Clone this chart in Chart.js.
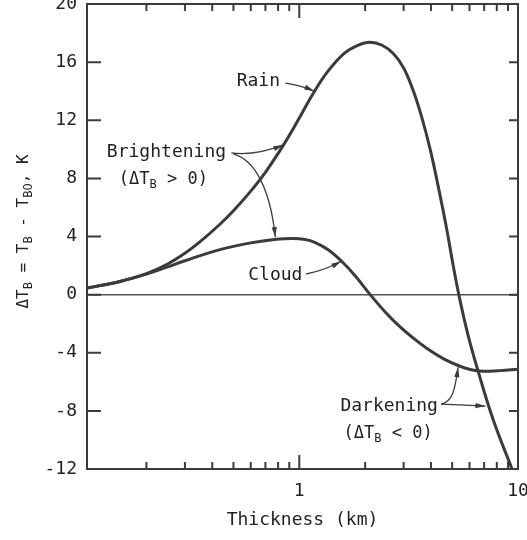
<!DOCTYPE html>
<html>
<head>
<meta charset="utf-8">
<script src="https://cdn.jsdelivr.net/npm/chart.js@4.4.1/dist/chart.umd.min.js"></script>
<style>
  html, body { margin: 0; padding: 0; background: #fff; }
</style>
</head>
<body>
<canvas id="chart" width="527" height="540"></canvas>
<script>
// ---- dados: espessura (km) x variação da temperatura de brilho (K) ----
const rainKm = [0.107, 0.15, 0.2, 0.25, 0.3, 0.35, 0.43, 0.5, 0.6, 0.7, 0.85, 1.0, 1.17, 1.35, 1.6, 1.85,
                2.11, 2.39, 2.69, 3.0, 3.33, 3.61, 3.97, 4.31, 4.73, 5.02, 5.38, 5.91, 6.59, 7.71, 9.36, 10];
const rainDT = [0.45, 0.89, 1.45, 2.11, 2.85, 3.61, 4.79, 5.77, 7.12, 8.42, 10.34, 12.15, 13.96, 15.36, 16.59, 17.16,
                17.37, 17.16, 16.59, 15.6, 13.98, 12.33, 9.98, 7.5, 4.45, 2.25, -0.1, -2.78, -5.33, -8.63, -11.95, -13.1];

const cloudKm = [0.107, 0.15, 0.2, 0.25, 0.3, 0.43, 0.6, 0.785, 0.936, 1.065, 1.17, 1.35, 1.57, 1.8,
                 2.11, 2.47, 2.89, 3.32, 3.84, 4.55, 5.43, 6.04, 6.71, 7.45, 8.28, 10];
const cloudDT = [0.45, 0.89, 1.41, 1.91, 2.33, 3.08, 3.56, 3.81, 3.87, 3.79, 3.61, 3.1, 2.26, 1.3,
                 0, -1.19, -2.22, -2.99, -3.71, -4.4, -4.93, -5.15, -5.26, -5.27, -5.23, -5.13];

// marcas do eixo log e rótulos que aparecem
const xTickKm = [0.2, 0.3, 0.4, 0.5, 0.6, 0.7, 0.8, 0.9, 1, 2, 3, 4, 5, 6, 7, 8, 9, 10];
const xLabeled = [1, 10];
const yMin = -12, yMax = 20, yStep = 4;

const INK = '#3b3b3b';
const TEXT = '#222';
const FONT = '"DejaVu Sans Mono", monospace';

const toPts = (xs, ys) => xs.map((x, i) => ({ x, y: ys[i] }));

// texto com subscritos: partes [{t, sub}]
const SUB = 0.72;
function richWidth(ctx, parts, size) {
    let w = 0;
    parts.forEach(p => {
        ctx.font = `${p.sub ? Math.round(size * SUB) : size}px ${FONT}`;
        w += ctx.measureText(p.t).width;
    });
    return w;
}
function drawRich(ctx, parts, cx, cy, size) {
    let x = cx - richWidth(ctx, parts, size) / 2;
    ctx.textBaseline = 'middle';
    ctx.textAlign = 'left';
    parts.forEach(p => {
        const s = p.sub ? Math.round(size * SUB) : size;
        ctx.font = `${s}px ${FONT}`;
        ctx.fillText(p.t, x, p.sub ? cy + size * 0.3 : cy);
        x += ctx.measureText(p.t).width;
    });
}

function arrow(ctx, pts) {
    ctx.beginPath();
    ctx.moveTo(pts[0][0], pts[0][1]);
    if (pts.length === 2) ctx.lineTo(pts[1][0], pts[1][1]);
    else if (pts.length === 3) ctx.quadraticCurveTo(pts[1][0], pts[1][1], pts[2][0], pts[2][1]);
    else ctx.bezierCurveTo(pts[1][0], pts[1][1], pts[2][0], pts[2][1], pts[3][0], pts[3][1]);
    ctx.stroke();
    const [ex, ey] = pts[pts.length - 1];
    const [px, py] = pts[pts.length - 2];
    const a = Math.atan2(ey - py, ex - px);
    const L = 10, W = 2.6;
    ctx.beginPath();
    ctx.moveTo(ex, ey);
    ctx.lineTo(ex - L * Math.cos(a) + W * Math.sin(a), ey - L * Math.sin(a) - W * Math.cos(a));
    ctx.lineTo(ex - L * Math.cos(a) - W * Math.sin(a), ey - L * Math.sin(a) + W * Math.cos(a));
    ctx.closePath();
    ctx.fill();
}

// rótulos e setas em coordenadas de dados (km, K)
const notes = [
    { parts: [{ t: 'Rain' }], at: [0.65, 14.7], size: 18 },
    { parts: [{ t: 'Brightening' }], at: [0.247, 9.81], size: 18 },
    { parts: [{ t: '(ΔT' }, { t: 'B', sub: true }, { t: ' > 0)' }], at: [0.239, 7.89], size: 17 },
    { parts: [{ t: 'Cloud' }], at: [0.777, 1.35], size: 18 },
    { parts: [{ t: 'Darkening' }], at: [2.576, -7.66], size: 18 },
    { parts: [{ t: '(ΔT' }, { t: 'B', sub: true }, { t: ' < 0)' }], at: [2.549, -9.59], size: 17 }
];
const arrows = [
    [[0.863, 14.56], [1.01, 14.42], [1.171, 14.0]],
    [[0.489, 9.75], [0.630, 9.54], [0.845, 10.3]],
    [[0.4995, 9.68], [0.630, 9.26], [0.737, 7.20], [0.777, 3.96]],
    [[1.076, 1.42], [1.314, 1.69], [1.555, 2.3]],
    [[4.451, -7.53], [4.996, -7.39], [5.157, -6.57], [5.321, -5.0]],
    [[4.451, -7.53], [5.8, -7.6], [7.1, -7.67]]
];

const decorations = {
    id: 'decorations',
    afterDatasetsDraw(chart) {
        const { ctx, chartArea: a, scales: { x, y } } = chart;
        ctx.save();
        ctx.strokeStyle = INK;
        ctx.fillStyle = INK;

        // moldura
        ctx.lineWidth = 2;
        ctx.strokeRect(a.left, a.top, a.right - a.left, a.bottom - a.top);

        // marcas internas
        ctx.beginPath();
        for (let v = yMin; v <= yMax; v += yStep) {
            const py = y.getPixelForValue(v);
            ctx.moveTo(a.left, py); ctx.lineTo(a.left + 14, py);
            ctx.moveTo(a.right, py); ctx.lineTo(a.right - 9, py);
        }
        xTickKm.forEach(v => {
            const px = x.getPixelForValue(v);
            const len = xLabeled.includes(v) ? 14 : 7;
            ctx.moveTo(px, a.bottom); ctx.lineTo(px, a.bottom - len);
            ctx.moveTo(px, a.top); ctx.lineTo(px, a.top + len);
        });
        ctx.stroke();

        // setas
        ctx.lineWidth = 1.3;
        arrows.forEach(pts => arrow(ctx, pts.map(([vx, vy]) => [x.getPixelForValue(vx), y.getPixelForValue(vy)])));

        // rótulos
        ctx.fillStyle = TEXT;
        notes.forEach(n => drawRich(ctx, n.parts, x.getPixelForValue(n.at[0]), y.getPixelForValue(n.at[1]), n.size));

        // título do eixo y
        ctx.translate(24, (a.top + a.bottom) / 2 - 5);
        ctx.rotate(-Math.PI / 2);
        drawRich(ctx, [{ t: 'ΔT' }, { t: 'B', sub: true }, { t: ' = T' }, { t: 'B', sub: true },
                       { t: ' - T' }, { t: 'BO', sub: true }, { t: ', K' }], 0, 0, 16);
        ctx.restore();
    }
};

const lineStyle = { borderColor: INK, borderWidth: 3, pointRadius: 0, fill: false, tension: 0.4 };

new Chart(document.getElementById('chart'), {
    type: 'line',
    data: {
        datasets: [
            { label: 'Rain', data: toPts(rainKm, rainDT), ...lineStyle },
            { label: 'Cloud', data: toPts(cloudKm, cloudDT), ...lineStyle }
        ]
    },
    options: {
        responsive: false,
        animation: false,
        events: [],
        layout: { padding: { top: 4, right: 9, left: 0, bottom: 0 } },
        plugins: { legend: { display: false }, tooltip: { enabled: false } },
        scales: {
            x: {
                type: 'logarithmic', min: 0.107, max: 10,
                afterBuildTicks: s => { s.ticks = xTickKm.map(v => ({ value: v })); },
                afterFit: s => { s.height = 71; s.paddingLeft = 0; s.paddingRight = 0; },
                grid: { display: false, drawTicks: false },
                border: { display: false },
                ticks: {
                    autoSkip: false, maxRotation: 0, padding: 12, color: TEXT,
                    font: { family: FONT, size: 18 },
                    callback: v => xLabeled.includes(v) ? String(v) : ''
                },
                title: { display: true, text: 'Thickness (km)', color: TEXT, font: { family: FONT, size: 18 }, padding: { top: 0, bottom: 9 } }
            },
            y: {
                min: yMin, max: yMax,
                afterFit: s => { s.width = 87; s.paddingTop = 0; s.paddingBottom = 0; },
                ticks: { stepSize: yStep, padding: 10, color: TEXT, font: { family: FONT, size: 18 } },
                grid: { drawTicks: false, lineWidth: 1.5, color: c => c.tick && c.tick.value === 0 ? '#555' : 'rgba(0,0,0,0)' },
                border: { display: false }
            }
        }
    },
    plugins: [decorations]
});
</script>
</body>
</html>
